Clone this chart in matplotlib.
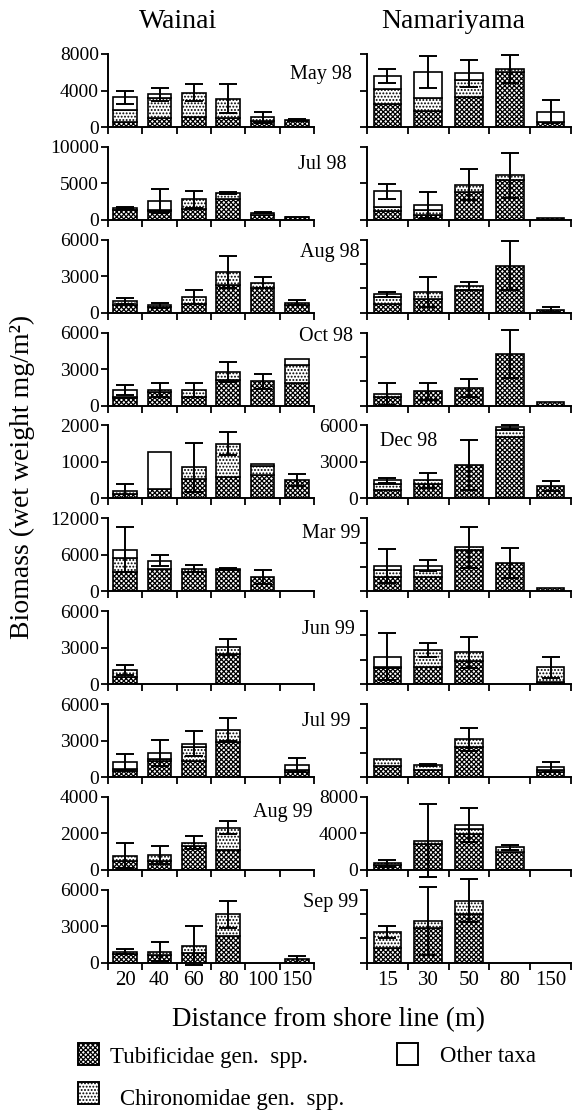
import numpy as np
import matplotlib.pyplot as plt
from matplotlib.patches import Rectangle

plt.rcParams['font.family'] = ['Liberation Serif', 'DejaVu Serif']
plt.rcParams['hatch.linewidth'] = 0.9

# --- data (wet weight mg/m2), one row per sampling month ---
months = ['May 98', 'Jul 98', 'Aug 98', 'Oct 98', 'Dec 98',
          'Mar 99', 'Jun 99', 'Jul 99', 'Aug 99', 'Sep 99']

wainai_dist = ['20', '40', '60', '80', '100', '150']
nama_dist = ['15', '30', '50', '80', '150']

wainai_tub = [[500, 1000, 1050, 950, 700, 750],
              [1400, 1200, 1450, 2900, 700, 350],
              [600, 500, 700, 2300, 2000, 600],
              [600, 1100, 700, 2100, 2000, 1850],
              [120, 270, 520, 590, 640, 500],
              [3150, 3700, 3150, 3500, 2400, 0],
              [600, 0, 0, 2500, 0, 0],
              [500, 1300, 1350, 2850, 0, 450],
              [500, 500, 1300, 1100, 0, 0],
              [700, 650, 770, 2230, 0, 275]]
wainai_chi = [[1400, 2150, 2700, 2150, 380, 0],
              [200, 100, 1350, 800, 300, 100],
              [330, 100, 600, 1050, 450, 220],
              [100, 170, 570, 650, 0, 1500],
              [80, 0, 340, 910, 250, 0],
              [2400, 0, 550, 200, 0, 0],
              [570, 0, 0, 570, 0, 0],
              [200, 150, 1150, 1050, 0, 150],
              [280, 320, 200, 1220, 0, 0],
              [210, 260, 630, 1760, 0, 0]]
wainai_oth = [[1350, 450, 0, 0, 0, 0],
              [0, 1300, 0, 0, 0, 0],
              [0, 0, 0, 0, 0, 0],
              [570, 0, 0, 0, 0, 500],
              [0, 1000, 0, 0, 60, 0],
              [1250, 1300, 0, 0, 0, 0],
              [0, 0, 0, 0, 0, 0],
              [550, 550, 250, 0, 0, 400],
              [0, 0, 0, 0, 0, 0],
              [0, 0, 0, 0, 0, 0]]
wainai_err = [[700, 700, 950, 1600, 600, 100],
              [150, 1650, 1200, 150, 100, 0],
              [250, 220, 550, 1300, 450, 220],
              [400, 600, 600, 800, 600, 0],
              [190, 0, 670, 310, 0, 160],
              [3700, 900, 550, 100, 1150, 0],
              [420, 0, 0, 640, 0, 0],
              [640, 1070, 1060, 930, 0, 570],
              [670, 500, 330, 360, 0, 0],
              [220, 770, 1620, 1120, 0, 275]]

nama_tub = [[2470, 1730, 3280, 5980, 600],
            [1240, 700, 3830, 5440, 320],
            [700, 1100, 1900, 3870, 245],
            [700, 1160, 1430, 4240, 270],
            [700, 1200, 2770, 5060, 1020],
            [2340, 2340, 6800, 4630, 545],
            [1300, 1400, 1940, 0, 200],
            [900, 600, 2480, 0, 450],
            [500, 2840, 3930, 2000, 0],
            [1200, 2890, 4020, 0, 0]]
nama_chi = [[1660, 1480, 1890, 370, 0],
            [460, 700, 960, 690, 0],
            [600, 590, 310, 0, 0],
            [245, 0, 0, 0, 0],
            [500, 280, 0, 600, 0],
            [1100, 1200, 450, 0, 0],
            [100, 1410, 680, 0, 1200],
            [560, 400, 620, 0, 100],
            [230, 360, 550, 475, 0],
            [1340, 540, 1080, 0, 0]]
nama_oth = [[1470, 2840, 700, 0, 1060],
            [2220, 600, 0, 0, 0],
            [200, 0, 0, 0, 0],
            [0, 0, 0, 0, 0],
            [280, 0, 0, 200, 0],
            [760, 660, 0, 0, 0],
            [870, 0, 0, 0, 0],
            [0, 0, 0, 0, 310],
            [0, 0, 400, 0, 0],
            [0, 0, 0, 0, 0]]
nama_err = [[800, 1780, 1500, 1570, 1250],
            [1000, 1800, 2120, 3090, 0],
            [220, 1230, 330, 1990, 200],
            [900, 700, 730, 1970, 0],
            [220, 620, 2070, 170, 380],
            [2780, 870, 3380, 2450, 0],
            [1920, 540, 1270, 0, 870],
            [0, 80, 950, 0, 410],
            [400, 4000, 1850, 300, 0],
            [480, 2760, 1790, 0, 0]]

wainai_ymax = [8000, 10000, 6000, 6000, 2000, 12000, 6000, 6000, 4000, 6000]
wainai_ystep = [4000, 5000, 3000, 3000, 1000, 6000, 3000, 3000, 2000, 3000]
nama_ymax = [8000, 10000, 6000, 6000, 6000, 12000, 6000, 6000, 8000, 6000]
nama_ystep = [4000, 5000, 2000, 2000, 3000, 4000, 2000, 2000, 4000, 2000]
nama_labelled = ['Dec 98', 'Aug 99']

# --- layout (pixels of a 573x1114 image) ---
W, H = 573, 1114
fx = lambda px: px / W
fy = lambda py: 1 - py / H

TUB_HATCH = 'xxxxxxx'
CHI_HATCH = '.....'
styles = [dict(hatch=TUB_HATCH), dict(hatch=CHI_HATCH), dict(hatch=None)]

# where each month label sits: (x px, alignment, y px)
month_pos = [(352, 'right', 74), (347, 'right', 164), (360, 'right', 252),
             (353, 'right', 337), (380, 'left', 442), (360, 'right', 533),
             (355, 'right', 630), (350, 'right', 722), (313, 'right', 812),
             (358, 'right', 903)]


def draw_panel(ax, cats, tub, chi, oth, err, ymax, ystep, show_y, bottom_row):
    n = len(cats)
    x = np.arange(n)
    parts = [np.array(tub, float), np.array(chi, float), np.array(oth, float)]
    base = np.zeros(n)
    for vals, st in zip(parts, styles):
        m = vals > 0
        if m.any():
            ax.bar(x[m], vals[m], 0.68, bottom=base[m], color='white',
                   edgecolor='black', linewidth=1.2, **st)
        base = base + vals
    err = np.array(err, float)
    m = (err > 0) & (base > 0)
    if m.any():
        eb = ax.errorbar(x[m], base[m], yerr=err[m], fmt='none', ecolor='black',
                         elinewidth=1.4, capsize=6.5, capthick=1.4)
        for art in list(eb[1]) + list(eb[2]):
            art.set_clip_on(False)

    ax.set_xlim(-0.5, n - 0.5)
    ax.set_ylim(0, ymax)
    for s in ['top', 'right']:
        ax.spines[s].set_visible(False)
    for s in ['left', 'bottom']:
        ax.spines[s].set_linewidth(1.4)
    ax.set_yticks(np.arange(0, ymax + 1, ystep))
    ax.tick_params(axis='y', direction='out', length=5, width=1.3, pad=1.5,
                   labelsize=14, labelleft=show_y)
    ax.set_xticks(np.arange(n + 1) - 0.5)
    ax.set_xticklabels([])
    ax.tick_params(axis='x', which='major', direction='out', length=5, width=1.3)
    if bottom_row:
        ax.set_xticks(x, minor=True)
        ax.set_xticklabels(cats, minor=True)
        ax.tick_params(axis='x', which='minor', length=0, pad=6, labelsize=15)


fig = plt.figure(figsize=(W / 100, H / 100), dpi=100)

first_base, pitch, panel_h = 127, 92.86, 73
for i, mon in enumerate(months):
    base_px = first_base + i * pitch
    bottom_row = i == len(months) - 1
    axl = fig.add_axes([fx(108), fy(base_px), fx(314) - fx(108), panel_h / H])
    draw_panel(axl, wainai_dist, wainai_tub[i], wainai_chi[i], wainai_oth[i],
               wainai_err[i], wainai_ymax[i], wainai_ystep[i], True, bottom_row)
    axr = fig.add_axes([fx(367), fy(base_px), fx(571) - fx(367), panel_h / H])
    draw_panel(axr, nama_dist, nama_tub[i], nama_chi[i], nama_oth[i],
               nama_err[i], nama_ymax[i], nama_ystep[i], mon in nama_labelled,
               bottom_row)
    px, ha, py = month_pos[i]
    fig.text(fx(px), fy(py), mon, ha=ha, va='center', fontsize=14.5)

fig.text(fx(178), fy(22), 'Wainai', ha='center', va='center', fontsize=20)
fig.text(fx(453), fy(22), 'Namariyama', ha='center', va='center', fontsize=20)
fig.text(fx(22), fy(477), 'Biomass (wet weight mg/m²)', rotation=90,
         ha='center', va='center', fontsize=20)
fig.text(fx(328), fy(1020), 'Distance from shore line (m)', ha='center',
         va='center', fontsize=19.5)

# legend boxes drawn by hand, as in the original layout
legend_items = [('Tubificidae gen.  spp.', TUB_HATCH, 78, 1043, 110, 1057),
                ('Other taxa', None, 397, 1043, 440, 1057),
                ('Chironomidae gen.  spp.', CHI_HATCH, 78, 1082, 120, 1100)]
for label, hatch, bx, by, tx, ty in legend_items:
    fig.add_artist(Rectangle((fx(bx), fy(by + 22)), 21 / W, 22 / H,
                             transform=fig.transFigure, facecolor='white',
                             edgecolor='black', linewidth=1.4, hatch=hatch))
    fig.text(fx(tx), fy(ty), label, ha='left', va='center', fontsize=16.5)

fig.savefig('out.png', dpi=100)
